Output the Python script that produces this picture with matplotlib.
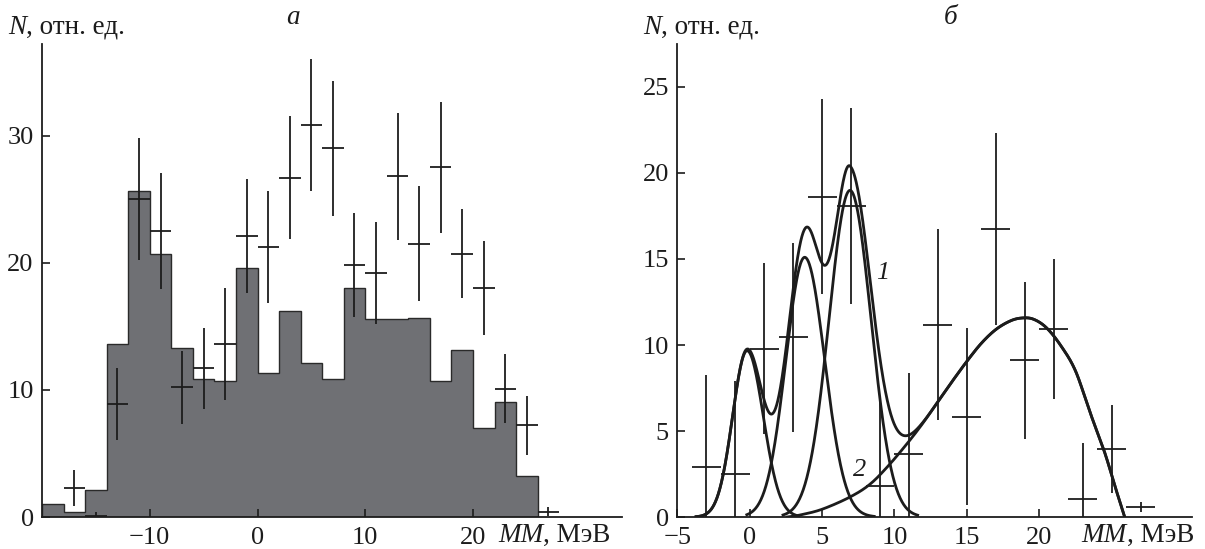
import numpy as np
import matplotlib
matplotlib.use("Agg")
import matplotlib.pyplot as plt

plt.rcParams['font.family'] = ['Liberation Serif', 'DejaVu Serif']
plt.rcParams['axes.unicode_minus'] = True

# ---------------- panel a data ----------------
hist_edges = np.arange(-20, 27, 2)
hist_vals = [1.0, 0.4, 2.1, 13.6, 25.6, 20.7, 13.3, 10.85, 10.7, 19.55, 11.3, 16.2,
             12.1, 10.85, 18.0, 15.55, 15.6, 15.65, 10.7, 13.1, 7.0, 9.05, 3.2]
a_x = [-17, -15, -13, -11, -9, -7, -5, -3, -1, 1, 3, 5, 7, 9, 11, 13, 15, 17, 19, 21, 23, 25, 27]
a_y = [2.3, 0.1, 8.9, 25.0, 22.5, 10.2, 11.7, 13.6, 22.1, 21.2, 26.7, 30.8, 29.0, 19.8,
       19.2, 26.8, 21.5, 27.5, 20.7, 18.0, 10.1, 7.2, 0.4]
a_err = [1.4, 0.3, 2.85, 4.8, 4.55, 2.85, 3.2, 4.4, 4.5, 4.4, 4.8, 5.2, 5.3, 4.1,
         4.0, 5.0, 4.5, 5.15, 3.5, 3.7, 2.7, 2.35, 0.35]
a_yticks = [0, 10, 20, 30]
a_xticks = [-10, 0, 10, 20]

# ---------------- panel б data ----------------
b_x = [-3, -1, 1, 3, 5, 7, 9, 11, 13, 15, 17, 19, 21, 23, 25, 27]
b_y = [2.89, 2.52, 9.79, 10.45, 18.62, 18.1, 1.82, 3.68, 11.18, 5.83, 16.72, 9.11,
       10.93, 1.03, 3.97, 0.58]
b_err = [5.37, 5.38, 4.96, 5.5, 5.66, 5.7, 4.9, 4.72, 5.55, 5.14, 5.58, 4.57,
         4.05, 3.25, 2.56, 0.27]
b_yticks = [0, 5, 10, 15, 20, 25]
b_xticks = [-5, 0, 5, 10, 15, 20]

# peak components: centre, height, sigma_left, sigma_right
peak_A = (-0.18, 9.67, 1.0, 1.12)
peak_B = (3.8, 15.1, 1.3, 1.38)
peak_C = (6.93, 18.99, 1.45, 1.45)
# peaks as they appear inside total curve 1
peak_B1 = (3.83, 16.15, 1.25, 1.19)
peak_C1 = (6.93, 18.7, 1.13, 1.45)
# broad curve 2
curve2_x = [2.6, 3.5, 5.0, 6.9, 8.3, 9.6, 11.0, 12.0, 13.0, 14.0, 15.0, 16.0, 17.0,
            18.0, 18.8, 19.6, 20.5, 21.5, 22.5, 23.5, 24.5, 25.3, 25.9]
curve2_y = [0.0, 0.12, 0.45, 1.15, 1.9, 3.0, 4.4, 5.5, 6.7, 7.9, 9.05, 10.1, 10.9,
            11.4, 11.57, 11.5, 11.0, 9.95, 8.5, 6.1, 3.8, 1.6, 0.0]

INK = '#1c1c1c'
GRAY = '#6f7074'
FS = 19
FSL = 19.5
W, H = 1205, 549


def split_gauss(x, p):
    c, h, sl, sr = p
    s = np.where(x < c, sl, sr)
    return h * np.exp(-(x - c) ** 2 / (2 * s ** 2))


def catmull_rom(x, y, n=40):
    pts = np.column_stack([x, y]).astype(float)
    P = np.vstack([2 * pts[0] - pts[1], pts, 2 * pts[-1] - pts[-2]])
    out = []
    t = np.linspace(0, 1, n, endpoint=False)[:, None]
    for i in range(1, len(P) - 2):
        p0, p1, p2, p3 = P[i - 1], P[i], P[i + 1], P[i + 2]
        out.append(0.5 * (2 * p1 + (-p0 + p2) * t + (2 * p0 - 5 * p1 + 4 * p2 - p3) * t ** 2
                          + (-p0 + 3 * p1 - 3 * p2 + p3) * t ** 3))
    out.append(P[-2][None])
    return np.vstack(out)


fig = plt.figure(figsize=(W / 100, H / 100), dpi=100)
axL = fig.add_axes([42 / W, 32 / H, (621.7 - 42) / W, 473 / H])
axR = fig.add_axes([677.3 / W, 32 / H, (1192 - 677.3) / W, 473 / H])

for ax in (axL, axR):
    for s in ('top', 'right'):
        ax.spines[s].set_visible(False)
    for s in ('left', 'bottom'):
        ax.spines[s].set_linewidth(1.3)
        ax.spines[s].set_color(INK)
    ax.tick_params(direction='in', length=6, width=1.2, color=INK, labelsize=FS,
                   labelcolor=INK)
    ax.tick_params(axis='x', pad=7)
    ax.tick_params(axis='y', pad=6)

# ---- panel a ----
axL.stairs(hist_vals, hist_edges, fill=True, color=GRAY, lw=0)
axL.stairs(hist_vals, hist_edges, color='#2a2a2a', lw=1.0)
axL.errorbar(a_x, a_y, yerr=a_err, xerr=1, fmt='none', ecolor=INK, elinewidth=1.3,
             capsize=0)
axL.set_xlim(-20, 33.8)
axL.set_ylim(0, 37.2)
axL.set_xticks(a_xticks)
axL.set_yticks(a_yticks)

# ---- panel б ----
axR.errorbar(b_x, b_y, yerr=b_err, xerr=1, fmt='none', ecolor=INK, elinewidth=1.3,
             capsize=0)
c2 = catmull_rom(curve2_x, curve2_y)
xs = np.linspace(-3.7, 25.9, 1500)
d2 = np.interp(xs, c2[:, 0], c2[:, 1], left=0, right=0)
total = split_gauss(xs, peak_A) + split_gauss(xs, peak_B1) + split_gauss(xs, peak_C1) + d2
axR.plot(xs, total, color=INK, lw=2.0)
axR.plot(c2[:, 0], c2[:, 1], color=INK, lw=2.0)
xa = np.linspace(-3.7, 3.4, 300)
axR.plot(xa, split_gauss(xa, peak_A), color=INK, lw=2.0)
xb = np.linspace(-0.2, 8.6, 300)
axR.plot(xb, split_gauss(xb, peak_B), color=INK, lw=2.0)
xc = np.linspace(2.3, 11.6, 300)
axR.plot(xc, split_gauss(xc, peak_C), color=INK, lw=2.0)
axR.text(9.19, 14.2, '1', style='italic', fontsize=FS, ha='center', va='center', color=INK)
axR.text(7.6, 2.75, '2', style='italic', fontsize=FS, ha='center', va='center', color=INK)
axR.set_xlim(-5, 30.55)
axR.set_ylim(0, 27.5)
axR.set_xticks(b_xticks)
axR.set_yticks(b_yticks)


def two_part(x_px, y_px, first, rest):
    t = fig.text(x_px / W, 1 - y_px / H, first, style='italic', fontsize=FSL,
                 ha='left', va='center', color=INK)
    fig.add_artist(matplotlib.text.Annotation(rest, xy=(1, 0), xycoords=t,
                                              ha='left', va='bottom', fontsize=FSL,
                                              color=INK))


two_part(8, 27, 'N', ', отн. ед.')
two_part(643, 27, 'N', ', отн. ед.')
two_part(498, 535, 'MM', ', МэВ')
two_part(1081.5, 535, 'MM', ', МэВ')
fig.text(292.8 / W, 1 - 17 / H, 'а', style='italic', fontsize=FSL, ha='center',
         va='center', color=INK)
fig.text(950.8 / W, 1 - 17 / H, 'б', style='italic', fontsize=FSL, ha='center',
         va='center', color=INK)

fig.savefig('out.png', dpi=100)
